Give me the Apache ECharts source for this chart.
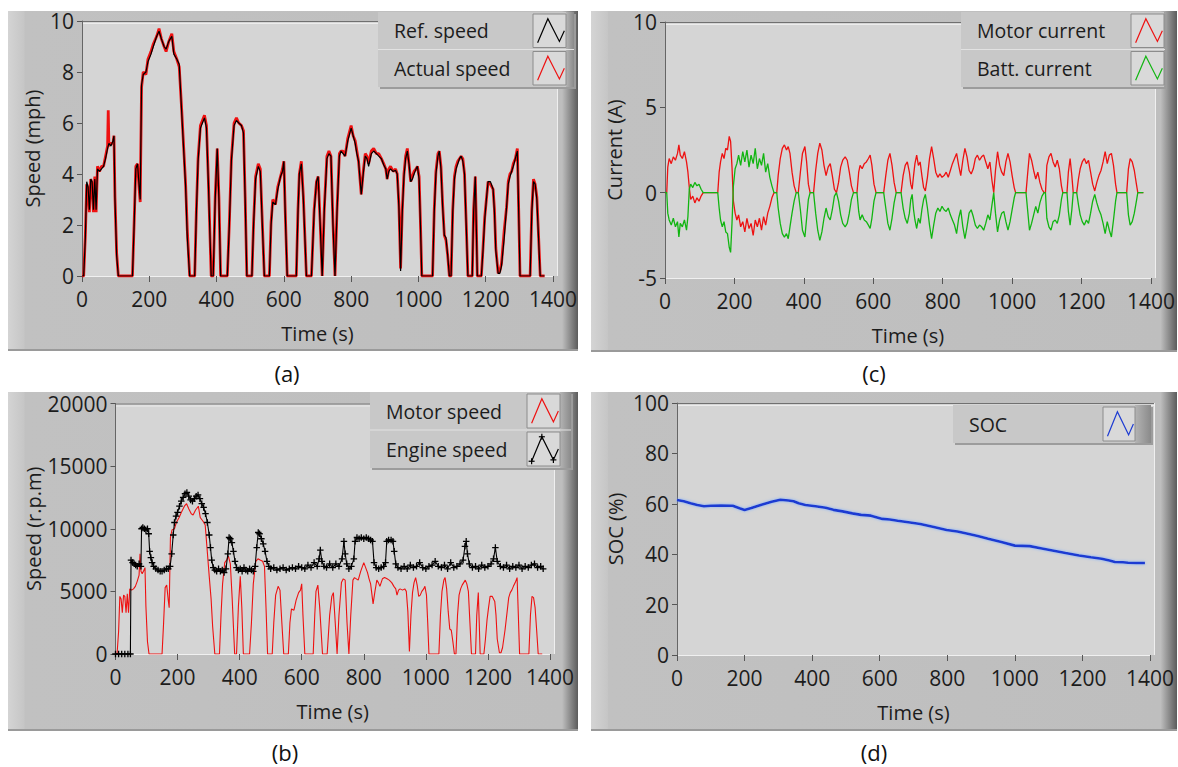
<!DOCTYPE html>
<html>
<head>
<meta charset="utf-8">
<script src="https://cdn.jsdelivr.net/npm/echarts@6/dist/echarts.min.js"></script>
<style>
html,body{margin:0;padding:0;background:#ffffff;}
#main{width:1178px;height:767px;}
</style>
</head>
<body>
<div id="main"></div>
<script>
// ---- Drive-cycle test data, [time (s), value] ----
const refSpeed = [[0,0],[5,0],[10,1.5],[14,3.7],[18,3.5],[22,2.6],[26,3.8],[30,3.7],[34,2.6],[38,3.8],[42,2.6],[46,4.2],[52,4.1],[58,4.2],[64,4.3],[70,4.6],[76,5.0],[80,5.2],[86,5.1],[92,5.3],[95,5.5],[98,3.0],[103,0.8],[108,0],[150,0],[155,2.0],[160,4.2],[165,4.4],[170,3.5],[173,3.0],[177,7.5],[182,7.9],[190,8.0],[196,8.4],[205,8.7],[212,9.0],[222,9.4],[229,9.6],[236,9.3],[244,9.0],[250,8.9],[258,9.2],[267,9.4],[273,8.7],[282,8.5],[289,8.3],[296,6.5],[302,5.0],[308,3.5],[313,1.5],[320,0],[335,0],[340,2.5],[345,4.5],[352,5.8],[358,6.0],[364,6.2],[370,5.8],[376,3.5],[384,0],[390,0],[396,3.0],[402,5.0],[407,3.0],[412,0],[432,0],[438,2.0],[444,4.5],[452,5.9],[459,6.1],[466,6.0],[474,5.9],[480,5.6],[485,3.0],[490,0],[505,0],[510,2.0],[516,3.8],[524,4.3],[530,4.1],[536,2.0],[542,0],[557,0],[562,2.0],[567,2.9],[575,2.8],[582,3.4],[590,3.9],[596,4.1],[600,4.5],[604,2.5],[610,0],[637,0],[642,2.5],[646,4.0],[652,4.4],[658,3.0],[667,0],[682,0],[690,2.5],[697,3.7],[702,3.9],[708,2.0],[714,0],[720,2.5],[728,4.6],[734,4.8],[740,4.7],[746,2.0],[752,0],[758,2.5],[765,4.7],[770,4.9],[776,4.8],[782,4.7],[790,5.3],[800,5.8],[806,5.5],[812,5.2],[817,4.8],[822,4.5],[830,3.2],[836,4.0],[842,4.7],[847,4.6],[852,4.3],[860,4.8],[867,4.9],[875,4.8],[882,4.7],[890,4.6],[897,4.35],[903,4.2],[907,3.8],[912,4.1],[917,4.2],[925,4.1],[932,4.15],[937,4.0],[942,2.7],[947,0.2],[952,2.5],[957,3.9],[962,4.6],[967,4.9],[972,4.4],[977,3.7],[982,3.8],[987,4.0],[993,4.2],[997,4.3],[1002,3.8],[1006,2.0],[1010,0],[1042,0],[1047,2.5],[1052,4.0],[1058,4.7],[1062,4.9],[1067,4.2],[1072,2.7],[1077,1.6],[1082,1.5],[1087,0.8],[1092,0],[1097,0],[1102,2.5],[1107,3.8],[1112,4.2],[1117,4.4],[1122,4.6],[1127,4.7],[1132,4.5],[1137,4.0],[1142,2.0],[1147,0],[1160,0],[1164,2.5],[1169,3.9],[1172,2.0],[1175,0],[1187,0],[1192,1.0],[1197,2.2],[1202,3.0],[1207,3.7],[1214,3.7],[1222,3.4],[1226,2.5],[1230,1.0],[1237,0.1],[1242,0.1],[1247,0.4],[1255,1.5],[1262,2.7],[1267,3.6],[1272,3.9],[1277,4.1],[1282,4.3],[1288,4.6],[1294,4.9],[1298,2.5],[1302,0],[1332,0],[1337,2.5],[1342,3.7],[1347,3.6],[1352,3.0],[1357,1.5],[1362,0],[1375,0]];

const actualSpeed = [[0,0],[5,0],[10,1.6],[14,3.6],[18,3.4],[22,2.5],[26,3.8],[30,3.6],[34,2.5],[38,3.9],[42,2.5],[46,4.3],[52,4.1],[58,4.3],[64,4.3],[70,4.7],[76,5.1],[78,6.5],[80,5.1],[86,5.2],[92,5.2],[95,5.5],[98,3.1],[103,0.9],[108,0],[150,0],[155,2.1],[160,4.3],[165,4.4],[170,3.4],[173,2.9],[177,7.4],[182,8.0],[190,7.9],[196,8.5],[205,8.8],[212,9.1],[222,9.4],[229,9.7],[236,9.3],[244,9.0],[250,8.8],[258,9.2],[267,9.5],[273,8.8],[282,8.5],[289,8.2],[296,6.6],[302,5.1],[308,3.6],[313,1.8],[320,0],[335,0],[340,2.6],[345,4.6],[352,5.9],[358,6.1],[364,6.3],[370,5.9],[376,3.6],[384,0],[390,0],[396,3.1],[402,5.0],[407,3.1],[412,0],[432,0],[438,2.1],[444,4.6],[452,6.0],[459,6.2],[466,6.0],[474,5.9],[480,5.7],[485,3.1],[490,0],[505,0],[510,2.1],[516,3.9],[524,4.4],[530,4.2],[536,2.1],[542,0],[557,0],[562,2.1],[567,3.0],[575,2.8],[582,3.5],[590,3.9],[596,4.2],[600,4.5],[604,2.6],[610,0],[637,0],[642,2.6],[646,4.0],[652,4.5],[658,3.1],[667,0],[682,0],[690,2.6],[697,3.7],[702,3.9],[708,2.1],[714,0],[720,2.6],[728,4.7],[734,4.9],[740,4.7],[746,2.1],[752,0],[758,2.6],[765,4.8],[770,4.9],[776,4.9],[782,4.7],[790,5.4],[800,5.9],[806,5.5],[812,5.3],[817,4.9],[822,4.5],[830,3.2],[836,4.1],[842,4.8],[847,4.7],[852,4.4],[860,4.9],[867,5.0],[875,4.8],[882,4.8],[890,4.6],[897,4.4],[903,4.2],[907,3.8],[912,4.2],[917,4.3],[925,4.1],[932,4.2],[937,4.0],[942,2.8],[947,0.3],[952,2.6],[957,4.0],[962,4.7],[967,5.0],[972,4.4],[977,3.7],[982,3.9],[987,4.1],[993,4.2],[997,4.3],[1002,3.9],[1006,2.1],[1010,0],[1042,0],[1047,2.6],[1052,4.1],[1058,4.8],[1062,4.9],[1067,4.3],[1072,2.8],[1077,1.6],[1082,1.4],[1087,0.8],[1092,0],[1097,0],[1102,2.6],[1107,3.9],[1112,4.3],[1117,4.5],[1122,4.6],[1127,4.7],[1132,4.6],[1137,4.0],[1142,2.1],[1147,0],[1160,0],[1164,2.6],[1169,3.9],[1172,2.1],[1175,0],[1187,0],[1192,1.1],[1197,2.3],[1202,3.0],[1207,3.7],[1214,3.6],[1222,3.4],[1226,2.6],[1230,1.1],[1237,0.1],[1242,0.2],[1247,0.5],[1255,1.8],[1262,2.7],[1267,3.7],[1272,4.0],[1277,4.1],[1282,4.4],[1288,4.6],[1294,5.0],[1298,2.6],[1302,0],[1332,0],[1337,2.6],[1342,3.8],[1347,3.6],[1352,3.1],[1357,1.6],[1362,0],[1375,0]];

const motorSpeed = [[0,0],[5,0],[10,1800],[14,4600],[18,4400],[22,3300],[26,4700],[30,4600],[34,3300],[38,4800],[42,3300],[46,5200],[52,5100],[58,5200],[64,5400],[70,5800],[76,6300],[79,8000],[82,6600],[86,6400],[92,6700],[95,6900],[98,3800],[103,1000],[108,0],[150,0],[155,2500],[160,5300],[165,5500],[170,4300],[173,3700],[177,9300],[182,9900],[190,10000],[196,10500],[205,10900],[212,11300],[222,11800],[229,12000],[236,11600],[244,11200],[250,11100],[258,11500],[267,11800],[273,10900],[282,10600],[289,10300],[296,8100],[302,6200],[308,4400],[313,2200],[320,0],[335,0],[340,3100],[345,5600],[352,7300],[358,7500],[364,7800],[370,7200],[376,4400],[384,0],[390,0],[396,3800],[402,6200],[407,3700],[412,0],[432,0],[438,2500],[444,5600],[452,7400],[459,7600],[466,7500],[474,7400],[480,7000],[485,3700],[490,0],[505,0],[510,2500],[516,4700],[524,5400],[530,5100],[536,2500],[542,0],[557,0],[562,2500],[567,3600],[575,3500],[582,4300],[590,4900],[596,5100],[600,5600],[604,3100],[610,0],[637,0],[642,3100],[646,5000],[652,5500],[658,3700],[667,0],[682,0],[690,3100],[697,4600],[702,4900],[708,2500],[714,0],[720,3100],[728,5700],[734,6000],[740,5900],[746,2500],[752,0],[758,3100],[765,5900],[770,6100],[776,6000],[782,5900],[790,6600],[800,7300],[806,6900],[812,6500],[817,6000],[822,5600],[830,4000],[836,5000],[842,5900],[847,5700],[852,5400],[860,6000],[867,6100],[875,6000],[882,5900],[890,5700],[897,5400],[903,5200],[907,4700],[912,5100],[917,5200],[925,5100],[932,5200],[937,5000],[942,3400],[947,200],[952,3100],[957,4900],[962,5700],[967,6100],[972,5500],[977,4600],[982,4700],[987,5000],[993,5200],[997,5400],[1002,4700],[1006,2500],[1010,0],[1042,0],[1047,3100],[1052,5000],[1058,5900],[1062,6100],[1067,5200],[1072,3400],[1077,2000],[1082,1900],[1087,1000],[1092,0],[1097,0],[1102,3100],[1107,4700],[1112,5200],[1117,5500],[1122,5700],[1127,5900],[1132,5600],[1137,5000],[1142,2500],[1147,0],[1160,0],[1164,3100],[1169,4900],[1172,2500],[1175,0],[1187,0],[1192,1200],[1197,2700],[1202,3700],[1207,4600],[1214,4600],[1222,4200],[1226,3100],[1230,1200],[1237,100],[1242,100],[1247,500],[1255,1900],[1262,3400],[1267,4500],[1272,4900],[1277,5100],[1282,5400],[1288,5700],[1294,6100],[1298,3100],[1302,0],[1332,0],[1337,3100],[1342,4600],[1347,4500],[1352,3700],[1357,1900],[1362,0],[1375,0]];

const engineSpeed = [[0,0],[10,0],[20,0],[30,0],[40,0],[48,0],[50,7500],[55,7300],[60,7200],[65,7100],[70,7000],[76,7200],[82,7000],[84,10000],[88,10100],[93,10000],[98,9900],[103,10000],[107,9600],[110,8200],[114,7700],[118,7300],[123,7000],[130,6800],[137,6700],[144,6600],[150,6600],[157,6700],[164,6800],[170,6800],[176,7000],[181,8000],[186,9500],[190,10500],[195,11000],[200,11300],[206,11800],[212,12200],[218,12500],[224,12800],[230,12900],[236,12600],[242,12300],[248,12200],[254,12400],[260,12600],[266,12700],[272,12400],[278,12000],[284,11700],[290,11200],[296,10500],[302,9500],[306,8500],[310,7500],[315,6900],[320,6700],[326,6600],[332,6800],[338,6600],[344,6700],[350,6500],[356,6800],[362,8000],[366,9300],[370,9200],[375,8900],[380,8200],[385,7400],[390,6900],[396,6700],[402,6800],[408,6600],[414,6900],[420,6700],[426,6600],[432,6800],[438,6700],[444,6600],[450,7000],[455,8500],[460,9700],[464,9600],[470,9200],[476,8800],[482,8200],[488,7400],[494,7000],[500,6800],[510,6900],[520,6700],[530,6800],[540,6900],[550,6700],[560,6800],[570,6900],[580,6800],[590,7000],[600,6900],[610,6800],[620,7100],[630,6900],[640,7300],[650,7000],[656,7600],[660,8300],[665,7400],[672,7000],[680,6900],[690,7200],[700,6900],[710,7200],[720,7000],[730,7600],[736,9000],[740,8000],[745,7200],[752,6800],[760,7000],[768,7600],[772,9000],[778,9300],[785,9200],[792,9300],[800,9200],[808,9300],[815,9200],[822,9100],[828,9000],[833,7300],[840,6900],[848,6800],[856,6900],[864,7000],[870,7300],[874,9000],[880,9100],[888,9100],[894,9000],[898,8200],[903,7200],[910,6900],[920,6800],[930,7000],[940,6800],[950,7100],[960,6900],[970,7000],[980,7300],[990,6900],[1000,6800],[1010,7000],[1020,7100],[1030,7400],[1040,7000],[1050,6900],[1060,7100],[1070,6800],[1080,7300],[1090,6900],[1100,7000],[1110,7200],[1120,7500],[1126,8600],[1130,9000],[1134,8000],[1140,7200],[1150,6900],[1160,7000],[1170,6800],[1180,7100],[1190,6900],[1200,7000],[1210,7200],[1218,7600],[1224,8500],[1230,7400],[1240,7000],[1250,6900],[1260,7100],[1270,6800],[1280,7000],[1290,6900],[1300,7100],[1310,6800],[1320,7000],[1330,6900],[1340,7100],[1350,7200],[1360,6900],[1370,7000],[1378,6800]];

const motorCurrent = [[0,0],[5,0],[8,1.5],[12,2.0],[18,1.7],[24,2.1],[30,1.9],[36,2.3],[40,2.8],[44,2.2],[50,2.0],[56,2.4],[62,1.8],[66,1.2],[70,0.3],[74,-0.4],[80,-0.2],[86,-0.6],[92,-0.3],[98,-0.5],[104,-0.2],[110,0],[152,0],[156,1.2],[160,1.8],[165,2.3],[170,2.0],[175,2.6],[180,2.5],[185,3.3],[189,3.0],[193,1.5],[197,-0.5],[202,-1.2],[207,-1.6],[212,-1.3],[218,-2.0],[224,-1.7],[230,-2.3],[236,-1.5],[242,-2.1],[248,-1.8],[254,-2.5],[260,-1.6],[266,-2.0],[272,-1.5],[278,-2.2],[284,-1.4],[290,-1.9],[296,-1.2],[302,-0.8],[308,-0.3],[314,0],[322,0],[326,1.0],[332,2.0],[338,2.6],[344,2.8],[350,2.5],[355,2.7],[360,2.3],[366,1.2],[372,0.4],[378,0],[384,0],[390,1.2],[396,2.3],[403,2.7],[408,1.8],[413,0.5],[418,0],[428,0],[434,1.3],[440,2.3],[446,2.9],[452,2.5],[458,1.6],[464,1.0],[470,1.5],[476,1.7],[482,1.0],[488,0.2],[494,0],[500,0.6],[506,1.5],[512,1.9],[519,2.1],[525,1.9],[531,1.2],[537,0.4],[543,0],[553,0],[558,1.2],[562,1.6],[568,1.4],[574,1.7],[580,1.8],[586,2.0],[591,2.2],[596,1.6],[602,0.5],[608,0],[630,0],[636,1.0],[642,1.9],[648,2.3],[654,1.6],[660,0.6],[666,0],[680,0],[686,1.0],[692,1.6],[698,1.8],[704,1.2],[708,0.5],[712,0.2],[716,1.0],[720,1.7],[725,2.2],[730,1.6],[735,1.8],[740,1.0],[745,0.3],[750,0.1],[756,0.9],[762,2.0],[768,2.7],[774,2.0],[780,1.2],[786,0.9],[792,1.1],[798,0.9],[804,1.0],[810,1.2],[816,0.9],[822,1.3],[828,1.7],[834,2.0],[840,2.3],[846,1.6],[852,1.0],[858,1.9],[864,2.6],[870,2.1],[876,1.3],[882,1.1],[888,1.4],[894,2.0],[900,2.2],[906,1.9],[912,2.1],[918,2.2],[924,1.8],[930,1.4],[936,1.8],[942,0.7],[947,0],[952,1.3],[958,2.4],[964,1.6],[970,1.2],[976,1.0],[982,1.8],[988,2.3],[994,1.8],[1000,1.0],[1006,0.3],[1010,0],[1040,0],[1045,1.2],[1050,2.3],[1056,1.9],[1062,1.3],[1068,0.8],[1074,1.2],[1080,0.6],[1086,0.2],[1092,0],[1096,0],[1100,1.6],[1106,2.1],[1112,2.3],[1118,1.8],[1124,1.5],[1130,1.9],[1136,1.4],[1142,0.4],[1146,0],[1158,0],[1162,1.2],[1167,2.0],[1172,1.0],[1176,0],[1186,0],[1191,0.8],[1196,1.4],[1202,1.8],[1208,2.0],[1214,1.7],[1220,1.9],[1226,1.2],[1232,0.5],[1238,0.1],[1244,0.6],[1250,1.0],[1256,1.3],[1262,1.8],[1268,2.4],[1274,1.7],[1280,2.2],[1286,2.3],[1292,1.6],[1298,0.5],[1302,0],[1330,0],[1335,1.4],[1340,2.0],[1346,1.8],[1352,1.3],[1358,0.5],[1362,0],[1378,0]];

const battCurrent = [[0,0],[5,0],[8,-1.2],[12,-1.6],[18,-1.9],[24,-1.5],[30,-2.0],[36,-1.7],[40,-2.6],[44,-1.8],[50,-2.0],[56,-1.6],[62,-2.2],[66,-1.4],[70,0.2],[74,0.5],[80,0.3],[86,0.6],[92,0.4],[98,0.5],[104,0.2],[110,0],[152,0],[156,-0.9],[160,-1.6],[165,-2.0],[170,-1.7],[175,-2.3],[180,-2.4],[185,-3.2],[189,-3.5],[193,-1.8],[197,0.4],[202,1.4],[207,1.7],[212,2.2],[218,1.6],[224,2.4],[230,1.8],[236,2.5],[242,1.5],[248,2.2],[254,1.7],[260,2.6],[266,1.4],[272,2.0],[278,1.6],[284,2.3],[290,1.2],[296,1.7],[302,0.9],[308,0.4],[314,0],[322,0],[326,-0.9],[332,-1.8],[338,-2.4],[344,-2.6],[350,-2.4],[355,-2.7],[360,-2.0],[366,-1.2],[372,-0.5],[378,0],[384,0],[390,-1.0],[396,-2.2],[403,-2.6],[408,-1.5],[413,-0.4],[418,0],[428,0],[434,-1.2],[440,-2.2],[446,-2.8],[452,-2.3],[458,-1.5],[464,-0.9],[470,-1.4],[476,-1.6],[482,-1.0],[488,-0.2],[494,0],[500,-0.5],[506,-1.3],[512,-1.8],[519,-2.0],[525,-1.8],[531,-1.2],[537,-0.4],[543,0],[553,0],[558,-1.1],[562,-1.6],[568,-1.3],[574,-1.6],[580,-1.7],[586,-1.9],[591,-2.1],[596,-1.5],[602,-0.5],[608,0],[630,0],[636,-0.9],[642,-1.8],[648,-2.2],[654,-1.5],[660,-0.6],[666,0],[680,0],[686,-0.9],[692,-1.5],[698,-1.8],[704,-1.2],[708,-0.4],[712,-0.1],[716,-1.0],[720,-1.6],[725,-2.1],[730,-1.5],[735,-1.8],[740,-1.0],[745,-0.4],[750,-0.1],[756,-0.9],[762,-1.9],[768,-2.7],[774,-1.9],[780,-1.2],[786,-0.9],[792,-1.1],[798,-0.8],[804,-1.0],[810,-1.1],[816,-0.9],[822,-1.3],[828,-1.6],[834,-1.9],[840,-2.4],[846,-1.5],[852,-1.0],[858,-2.0],[864,-2.7],[870,-2.0],[876,-1.2],[882,-1.0],[888,-1.4],[894,-1.9],[900,-2.1],[906,-1.9],[912,-2.0],[918,-2.2],[924,-1.8],[930,-1.3],[936,-1.6],[942,-0.7],[947,0],[952,-1.2],[958,-2.3],[964,-1.6],[970,-1.2],[976,-1.1],[982,-1.7],[988,-2.2],[994,-1.7],[1000,-1.0],[1006,-0.3],[1010,0],[1040,0],[1045,-1.1],[1050,-2.2],[1056,-1.8],[1062,-1.3],[1068,-0.8],[1074,-1.2],[1080,-0.6],[1086,-0.2],[1092,0],[1096,0],[1100,-1.5],[1106,-2.0],[1112,-2.2],[1118,-1.7],[1124,-1.6],[1130,-1.8],[1136,-1.3],[1142,-0.4],[1146,0],[1158,0],[1162,-1.1],[1167,-1.9],[1172,-1.0],[1176,0],[1186,0],[1191,-0.7],[1196,-1.3],[1202,-1.7],[1208,-1.9],[1214,-1.6],[1220,-1.8],[1226,-1.2],[1232,-0.5],[1238,-0.1],[1244,-0.6],[1250,-1.0],[1256,-1.3],[1262,-1.8],[1268,-2.4],[1274,-1.7],[1280,-2.2],[1286,-2.6],[1292,-1.6],[1298,-0.5],[1302,0],[1330,0],[1335,-1.3],[1340,-1.9],[1346,-1.7],[1352,-1.2],[1358,-0.5],[1362,0],[1378,0]];

const soc = [[0,61.5],[20,61],[40,60.2],[60,59.5],[80,59],[100,59.2],[130,59.3],[165,59.2],[185,58.2],[200,57.5],[220,58.3],[250,59.6],[280,60.8],[306,61.6],[330,61.3],[345,61],[360,60.2],[380,59.5],[410,59],[440,58.4],[463,57.6],[490,57],[519,56.2],[545,55.6],[574,55.3],[608,54],[630,53.8],[653,53.3],[690,52.6],[720,52],[760,50.8],[798,49.6],[830,49],[854,48.3],[890,47.2],[921,46.1],[960,44.8],[1000,43.4],[1044,43.2],[1080,42.3],[1111,41.5],[1150,40.5],[1190,39.5],[1225,38.8],[1257,38.2],[1280,37.5],[1296,36.9],[1320,36.8],[1335,36.6],[1360,36.5],[1385,36.5]];

// ---- Axis scales ----
const timeTicks = {min: 0, max: 1400, interval: 200};
const speedMphScale = {min: 0, max: 10, interval: 2};
const currentScale = {min: -5, max: 10, interval: 5};
const rpmScale = {min: 0, max: 20000, interval: 5000};
const socScale = {min: 0, max: 100, interval: 20};

// ---- Layout (pixels) ----
const FONT = '"Open Sans", "Noto Sans", sans-serif';
const TXT = '#1c1c1c';
const RED = '#ee1111';
const GREEN = '#11b511';
const BLUE = '#1d3bd2';
const TICK_FONT = 21;
const NAME_FONT = 20;

// plot rectangles: [left, top, right, bottom]
const plotBox = [
  [82, 21, 553, 276],
  [115.5, 403.5, 550, 654],
  [665, 22, 1151, 278],
  [677, 403, 1150, 655]
];
// panel frames: [x, y, w, h]
const frameBox = [
  [8, 11, 570, 340],
  [8, 392, 570, 339],
  [591, 11, 586, 341],
  [591, 392, 586, 339]
];

const chart = echarts.init(document.getElementById('main'), null, {renderer: 'svg'});

function grid(i) {
  const p = plotBox[i];
  return {left: p[0], top: p[1], width: p[2] - p[0], height: p[3] - p[1], containLabel: false, show: false};
}

// plain integers, no thousands separator
function plain(v) { return String(v); }

function xAxis(i) {
  return {
    type: 'value', gridIndex: i, min: timeTicks.min, max: timeTicks.max, interval: timeTicks.interval,
    name: 'Time (s)', nameLocation: 'middle', nameGap: 47,
    nameTextStyle: {fontFamily: FONT, fontSize: NAME_FONT, color: TXT},
    axisLine: {show: true, onZero: false, lineStyle: {color: '#f0f0f0', width: 1}},
    axisTick: {show: true, length: 6, lineStyle: {color: '#555'}},
    axisLabel: {fontFamily: FONT, fontSize: TICK_FONT, color: TXT, margin: 12, formatter: plain},
    splitLine: {show: false}, z: 5
  };
}

function yAxis(i, sc, name, gap) {
  return {
    type: 'value', gridIndex: i, min: sc.min, max: sc.max, interval: sc.interval,
    name: name, nameLocation: 'middle', nameGap: gap, nameRotate: 90,
    nameTextStyle: {fontFamily: FONT, fontSize: NAME_FONT, color: TXT},
    axisLine: {show: true, onZero: false, lineStyle: {color: '#666', width: 1}},
    axisTick: {show: true, length: 5, lineStyle: {color: '#555'}},
    axisLabel: {fontFamily: FONT, fontSize: TICK_FONT, color: TXT, margin: 8, formatter: plain},
    splitLine: {show: false}, z: 5
  };
}

function line(name, gi, data, color, width, z, extra) {
  return Object.assign({
    name: name, type: 'line', xAxisIndex: gi, yAxisIndex: gi, data: data,
    showSymbol: false, symbol: 'none', lineStyle: {color: color, width: width}, itemStyle: {color: color},
    z: z, animation: false, silent: true
  }, extra || {});
}

// '+' marker used on the engine speed trace
const PLUS = 'path://M4,0H6V4H10V6H6V10H4V6H0V4H4Z';

// ---- Decorations: panel frames, plot backgrounds, legends, captions ----
const g = [];

frameBox.forEach(function (f) {
  g.push({type: 'rect', shape: {x: f[0], y: f[1], width: f[2], height: f[3]}, z: 1,
    style: {fill: {type: 'linear', x: 0, y: 0, x2: 1, y2: 0, colorStops: [
      {offset: 0, color: '#d4d4d4'}, {offset: 0.028, color: '#c6c6c6'}, {offset: 0.03, color: '#c1c1c1'},
      {offset: 0.972, color: '#bebebe'}, {offset: 0.978, color: '#a9a9a9'}, {offset: 1, color: '#5c5c5c'}]}}});
  g.push({type: 'line', shape: {x1: f[0], y1: f[1] + f[3] - 1, x2: f[0] + f[2], y2: f[1] + f[3] - 1}, z: 1,
    style: {stroke: '#9a9a9a', lineWidth: 2}});
});

plotBox.forEach(function (p) {
  g.push({type: 'rect', shape: {x: p[0], y: p[1], width: p[2] - p[0] + 4, height: p[3] - p[1]}, z: 2,
    style: {fill: '#d5d5d5'}});
  g.push({type: 'line', shape: {x1: p[0], y1: p[1] + 0.5, x2: p[2] + 4, y2: p[1] + 0.5}, z: 3,
    style: {stroke: '#707070', lineWidth: 1}});
  g.push({type: 'line', shape: {x1: p[0], y1: p[1] + 2.5, x2: p[2] + 4, y2: p[1] + 2.5}, z: 3,
    style: {stroke: '#ececec', lineWidth: 1}});
  g.push({type: 'line', shape: {x1: p[2] + 4.5, y1: p[1], x2: p[2] + 4.5, y2: p[3]}, z: 3,
    style: {stroke: '#efefef', lineWidth: 1}});
});

function glyph(ix, iy, iw, ih, color, marks) {
  const pts = [[ix + iw * 0.14, iy + ih * 0.86], [ix + iw * 0.45, iy + ih * 0.14],
               [ix + iw * 0.8, iy + ih * 0.82], [ix + iw * 0.95, iy + ih * 0.5]];
  g.push({type: 'polyline', shape: {points: pts}, z: 22, style: {stroke: color, lineWidth: 1.2, fill: null}});
  if (marks) {
    pts.slice(0, 3).forEach(function (pt) {
      g.push({type: 'line', z: 23, shape: {x1: pt[0] - 3, y1: pt[1], x2: pt[0] + 3, y2: pt[1]},
        style: {stroke: color, lineWidth: 1.2}});
      g.push({type: 'line', z: 23, shape: {x1: pt[0], y1: pt[1] - 3, x2: pt[0], y2: pt[1] + 3},
        style: {stroke: color, lineWidth: 1.2}});
    });
  }
}

function legend(x, y, w, rowH, rows, iconX, iconW) {
  const h = rowH * rows.length;
  g.push({type: 'rect', shape: {x: x + 2, y: y + 2, width: w, height: h}, z: 19, style: {fill: '#9c9c9c'}});
  g.push({type: 'rect', shape: {x: x, y: y, width: w, height: h}, z: 20, style: {fill: '#c8c8c8'}});
  g.push({type: 'rect', shape: {x: iconX + iconW, y: y, width: x + w - iconX - iconW, height: h}, z: 20,
    style: {fill: {type: 'linear', x: 0, y: 0, x2: 1, y2: 0, colorStops: [
      {offset: 0, color: '#b4b4b4'}, {offset: 1, color: '#8a8a8a'}]}}});
  rows.forEach(function (r, k) {
    const ry = y + k * rowH;
    if (k > 0) {
      g.push({type: 'line', shape: {x1: x, y1: ry, x2: x + w, y2: ry}, z: 21, style: {stroke: '#e2e2e2', lineWidth: 1}});
    }
    g.push({type: 'rect', shape: {x: iconX, y: ry + 2, width: iconW, height: rowH - 4}, z: 21,
      style: {fill: '#d9d9d9', stroke: '#8c8c8c', lineWidth: 1}});
    glyph(iconX, ry + 2, iconW, rowH - 4, r.color, r.marks);
    g.push({type: 'text', x: x + 16, y: ry + rowH / 2, z: 22,
      style: {text: r.label, font: '19.5px ' + FONT, fill: TXT, textAlign: 'left', textVerticalAlign: 'middle',
        align: 'left', verticalAlign: 'middle'}});
  });
}

legend(378, 12, 196, 37.5, [{label: 'Ref. speed', color: '#000'}, {label: 'Actual speed', color: RED}], 533, 33);
legend(961, 12, 204, 37.5, [{label: 'Motor current', color: RED}, {label: 'Batt. current', color: GREEN}], 1131, 33);
legend(370, 392, 201, 38, [{label: 'Motor speed', color: RED}, {label: 'Engine speed', color: '#000', marks: true}], 527, 33);
legend(953, 405, 198, 38, [{label: 'SOC', color: BLUE}], 1103, 32);

[['(a)', 287, 373], ['(b)', 285, 752], ['(c)', 874, 373], ['(d)', 874, 752]].forEach(function (c) {
  g.push({type: 'text', x: c[1], y: c[2], z: 10,
    style: {text: c[0], font: '22px ' + FONT, fill: '#111', textAlign: 'center', textVerticalAlign: 'middle',
      align: 'center', verticalAlign: 'middle'}});
});

chart.setOption({
  animation: false,
  backgroundColor: '#ffffff',
  graphic: {elements: g},
  grid: [grid(0), grid(1), grid(2), grid(3)],
  xAxis: [xAxis(0), xAxis(1), xAxis(2), xAxis(3)],
  yAxis: [
    yAxis(0, speedMphScale, 'Speed (mph)', 40),
    yAxis(1, rpmScale, 'Speed (r.p.m)', 72),
    yAxis(2, currentScale, 'Current (A)', 41),
    yAxis(3, socScale, 'SOC (%)', 52)
  ],
  series: [
    line('Actual speed', 0, actualSpeed, RED, 2.8, 6),
    line('Ref. speed', 0, refSpeed, '#000000', 1.2, 7),
    line('Motor speed', 1, motorSpeed, RED, 1.1, 6),
    line('Engine speed', 1, engineSpeed, '#000000', 1.1, 7,
      {showSymbol: true, symbol: PLUS, symbolSize: 6.5}),
    line('Motor current', 2, motorCurrent, RED, 1.3, 6),
    line('Batt. current', 2, battCurrent, GREEN, 1.3, 7),
    line('SOC', 3, soc, BLUE, 2.6, 6, {lineStyle: {color: BLUE, width: 2.6, shadowColor: 'rgba(120,170,255,0.9)', shadowBlur: 3}})
  ]
});
</script>
</body>
</html>
